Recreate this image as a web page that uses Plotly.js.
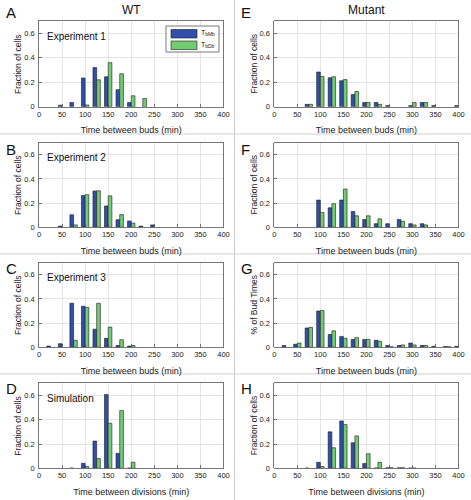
<!DOCTYPE html>
<html>
<head>
<meta charset="utf-8">
<script src="https://cdn.plot.ly/plotly-3.0.1.min.js"></script>
<style>html,body{margin:0;padding:0;background:#fff}#chart{width:471px;height:500px}</style>
</head>
<body>
<div id="chart"></div>
<script>
// ---------- data ----------
var bins = [25,50,75,100,125,150,175,200,225,250,275,300,325,350,375,400];
var seriesNames = ['T<sub>bMb</sub>','T<sub>bDb</sub>'];
var panelLetters = ['A','B','C','D','E','F','G','H'];
var panelNotes = ['Experiment 1','Experiment 2','Experiment 3','Simulation','','','',''];
var columnTitles = ['WT','Mutant'];
var xTitles = ['Time between buds (min)','Time between buds (min)','Time between buds (min)','Time between divisions (min)',
               'Time between buds (min)','Time between buds (min)','Time between buds (min)','Time between divisions (min)'];
var yTitles = ['Fraction of cells','Fraction of cells','Fraction of cells','Fraction of cells',
               'Fraction of cells','Fraction of cells','% of Bud Times','Fraction of cells'];
var xTicks = [0,50,100,150,200,250,300,350,400];
var yTicks = [0,0.2,0.4,0.6];
var yTickText = ['0','0.2','0.4','0.6'];

//            25    50    75    100   125   150   175   200   225   250   275   300   325   350   375   400
var A_mother=[null,0.013,0.035,0.235,0.32,0.245,0.14,0.035,null,null,null,null,null,null,null,null];
var A_daughter=[null,null,null,0.015,0.22,0.36,0.27,0.09,0.068,null,null,null,null,null,null,null];
var B_mother=[null,0.01,0.104,0.262,0.30,0.177,0.063,0.052,0.01,0.02,null,null,null,null,null,null];
var B_daughter=[null,null,0.02,0.27,0.302,0.26,0.105,0.035,null,null,null,null,null,null,null,null];
var C_mother=[0.01,0.03,0.365,0.34,0.15,0.074,0.015,0.01,null,null,null,null,null,null,null,null];
var C_daughter=[null,null,0.058,0.33,0.364,0.167,0.063,0.015,null,null,null,null,null,null,null,null];
var D_mother=[null,null,0.002,0.041,0.224,0.608,0.123,0.002,null,null,null,null,null,null,null,null];
var D_daughter=[null,null,null,0.015,0.08,0.371,0.477,0.05,null,null,null,null,null,null,null,null];
var E_mother=[null,null,0.02,0.284,0.237,0.213,0.10,0.035,0.035,0.01,null,0.01,0.035,0.01,null,0.01];
var E_daughter=[null,null,0.02,0.248,0.245,0.222,0.125,0.035,0.02,null,null,0.035,0.035,null,null,null];
var F_mother=[null,null,null,0.225,0.161,0.225,0.13,0.065,0.03,0.03,0.065,0.03,0.03,null,null,null];
var F_daughter=[null,null,null,0.123,0.195,0.316,0.095,0.095,0.07,null,0.05,0.02,0.02,null,null,null];
var G_mother=[0.015,0.025,0.16,0.30,0.106,0.09,0.065,0.065,0.058,0.015,0.015,0.035,0.015,0.008,0.006,0.008];
var G_daughter=[null,0.035,0.165,0.305,0.136,0.075,0.08,0.065,0.05,0.005,0.02,0.02,0.015,null,0.005,null];
var H_mother=[null,null,0.002,0.049,0.30,0.39,0.21,0.04,0.003,0.004,0.004,0.003,null,null,null,null];
var H_daughter=[null,null,null,0.015,0.169,0.36,0.267,0.12,0.049,0.005,0.005,0.002,null,null,null,null];

var mothers=[A_mother,B_mother,C_mother,D_mother,E_mother,F_mother,G_mother,H_mother];
var daughters=[A_daughter,B_daughter,C_daughter,D_daughter,E_daughter,F_daughter,G_daughter,H_daughter];

// ---------- layout geometry (pixels) ----------
var W=471,H=500;
function px(x){return x/W;}
function py(y){return 1-y/H;}
var colX=[[39,223.5],[274.3,458.5]];
var rowY=[[21,106.8],[142.6,227.3],[262.7,347.3],[383.3,468.3]];
var letterY=[12.5,149,268,388];
var yTitleX=[18,253.5];

var blue='#2F4FAA', green='#72CC72', edge='#1b1b1b';
var font='Liberation Sans, Arial, Helvetica, sans-serif';

var data=[], layout={
  width:W,height:H,margin:{l:0,r:0,t:0,b:0},
  paper_bgcolor:'#fff',plot_bgcolor:'#fff',
  showlegend:false,barmode:'group',bargap:0.36,bargroupgap:0,
  font:{family:font,color:'#222',size:8},
  annotations:[],shapes:[]
};

for(var p=0;p<8;p++){
  var col=Math.floor(p/4), row=p%4, n=p+1;
  var xa='x'+(n===1?'':n), ya='y'+(n===1?'':n);
  var xk='xaxis'+(n===1?'':n), yk='yaxis'+(n===1?'':n);
  data.push({type:'bar',x:bins,y:mothers[p],name:seriesNames[0],xaxis:xa,yaxis:ya,
    marker:{color:blue,line:{color:edge,width:0.6}}});
  data.push({type:'bar',x:bins,y:daughters[p],name:seriesNames[1],xaxis:xa,yaxis:ya,
    marker:{color:green,line:{color:edge,width:0.6}}});
  var axCommon={showline:true,mirror:true,linecolor:'#555',linewidth:0.8,ticks:'inside',ticklen:3,
    tickcolor:'#555',tickwidth:0.8,showgrid:true,gridcolor:'#dedede',gridwidth:0.8,zeroline:false,
    tickfont:{size:7.5,color:'#222',family:font},fixedrange:true,automargin:false};
  layout[xk]=Object.assign({},axCommon,{domain:[px(colX[col][0]),px(colX[col][1])],range:[0,400],
    tickvals:xTicks,anchor:ya,
    title:{text:xTitles[p],font:{size:9,color:'#222',family:font},standoff:9}});
  layout[yk]=Object.assign({},axCommon,{domain:[py(rowY[row][1]),py(rowY[row][0])],range:[0,0.7],
    tickvals:yTicks,ticktext:yTickText,anchor:xa,ticklabelstandoff:2});
  // y-axis title
  layout.annotations.push({text:yTitles[p],xref:'paper',yref:'paper',textangle:-90,
    x:px(yTitleX[col]),y:py((rowY[row][0]+rowY[row][1])/2),xanchor:'center',yanchor:'middle',
    showarrow:false,font:{size:8.5,color:'#222',family:font}});
  layout.annotations.push({text:panelLetters[p],xref:'paper',yref:'paper',
    x:px(col===0?4:239),y:py(letterY[row]),xanchor:'left',yanchor:'middle',showarrow:false,
    font:{size:15,color:'#111',family:font}});
  if(panelNotes[p]){
    layout.annotations.push({text:panelNotes[p],xref:xa,yref:ya,x:13,y:0.575,
      xanchor:'left',yanchor:'middle',showarrow:false,font:{size:10,color:'#111',family:font}});
  }
}
// column titles
layout.annotations.push({text:columnTitles[0],xref:'paper',yref:'paper',x:px(131),y:py(10),
  xanchor:'center',yanchor:'middle',showarrow:false,font:{size:12,color:'#111',family:font}});
layout.annotations.push({text:columnTitles[1],xref:'paper',yref:'paper',x:px(366),y:py(10),
  xanchor:'center',yanchor:'middle',showarrow:false,font:{size:12,color:'#111',family:font}});

// panel separators
[134,254,374].forEach(function(y){
  layout.shapes.push({type:'line',xref:'paper',yref:'paper',x0:0,x1:1,y0:py(y),y1:py(y),
    line:{color:'#cfcfcf',width:1}});
});
layout.shapes.push({type:'line',xref:'paper',yref:'paper',x0:px(234.5),x1:px(234.5),y0:0,y1:1,
  line:{color:'#cfcfcf',width:1}});

// legend (panel A)
layout.shapes.push({type:'rect',xref:'paper',yref:'paper',x0:px(166),x1:px(219),y0:py(52),y1:py(26),
  line:{color:'#555',width:0.8},fillcolor:'#fff'});
layout.shapes.push({type:'rect',xref:'paper',yref:'paper',x0:px(171),x1:px(197),y0:py(38),y1:py(29.5),
  line:{color:edge,width:0.6},fillcolor:blue});
layout.shapes.push({type:'rect',xref:'paper',yref:'paper',x0:px(171),x1:px(197),y0:py(49.5),y1:py(41),
  line:{color:edge,width:0.6},fillcolor:green});
layout.annotations.push({text:seriesNames[0],xref:'paper',yref:'paper',x:px(199),y:py(33.5),
  xanchor:'left',yanchor:'middle',showarrow:false,font:{size:7,color:'#111',family:font}});
layout.annotations.push({text:seriesNames[1],xref:'paper',yref:'paper',x:px(199),y:py(45),
  xanchor:'left',yanchor:'middle',showarrow:false,font:{size:7,color:'#111',family:font}});

Plotly.newPlot('chart',data,layout,{staticPlot:true,displayModeBar:false});
</script>
</body>
</html>
